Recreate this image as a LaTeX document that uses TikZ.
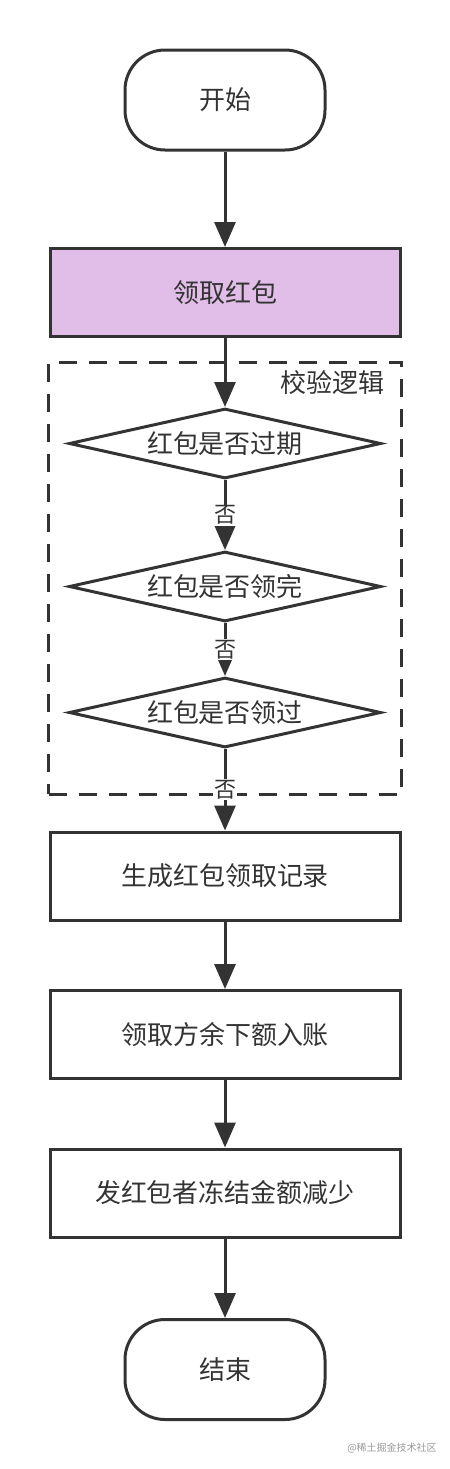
\documentclass[tikz,border=0pt]{standalone}
\usepackage{fontspec}
\setmainfont{Noto Sans CJK SC}
\usetikzlibrary{shapes.geometric, arrows.meta, positioning, fit}
\definecolor{ink}{RGB}{51,51,51}
\definecolor{lilac}{RGB}{225,190,231}
\tikzset{
  startstop/.style={rectangle, rounded corners=20pt, draw=ink, line width=1.5pt, minimum width=100pt, minimum height=50pt, align=center, text=ink, font=\fontsize{13pt}{15pt}\selectfont},
  process/.style={rectangle, draw=ink, line width=1.5pt, minimum width=175pt, minimum height=44pt, align=center, text=ink, font=\fontsize{13pt}{15pt}\selectfont},
  decision/.style={diamond, aspect=4.5, draw=ink, line width=1.5pt, minimum width=156pt, minimum height=35pt, inner sep=0pt, align=center, text=ink, font=\fontsize{13pt}{15pt}\selectfont},
  group/.style={rectangle, draw=ink, line width=1.5pt, dash pattern=on 9pt off 6pt, inner xsep=9.5pt, inner ysep=22.5pt},
  arrow/.style={-{Triangle[length=12.5pt, width=10.5pt]}, line width=1.5pt, draw=ink},
  nolabel/.style={fill=white, inner sep=0.5pt, text=ink, font=\fontsize{11pt}{13pt}\selectfont},
}

\begin{document}
\begin{tikzpicture}[node distance=36pt]
\useasboundingbox (0,0) rectangle (225pt,-734.5pt);
\node[startstop] (start) at (112.5pt,-50pt) {开始};
\node[process, fill=lilac, below=47.75pt of start] (get) {领取红包};
\node[decision, below=34.5pt of get] (chk1) {红包是否过期};
\node[decision, below=35pt of chk1] (chk2) {红包是否领完};
\node[decision, below=26.5pt of chk2] (chk3) {红包是否领过};
\node[process, below=40.75pt of chk3] (rec) {生成红包领取记录};
\node[process, below=33.75pt of rec] (inc) {领取方余下额入账};
\node[process, below=33.75pt of inc] (dec) {发红包者冻结金额减少};
\node[startstop, below=39.75pt of dec] (stop) {结束};
% dashed check group
\node[group, fit=(chk1)(chk3)] (grp) {};
\node[anchor=north east, inner sep=0pt, text=ink, font=\fontsize{13pt}{15pt}\selectfont] (cap) at ([xshift=-9pt, yshift=-5pt]grp.north east) {校验逻辑};
\draw[arrow] (start)--(get); \draw[arrow] (get)--(chk1);
\draw[arrow] (chk1)-- node[nolabel]{否}(chk2);
\draw[arrow] (chk2)-- node[nolabel]{否}(chk3);
\draw[arrow] (chk3)-- node[nolabel]{否}(rec);
\draw[arrow] (rec)--(inc); \draw[arrow] (inc)--(dec);
\draw[arrow] (dec)--(stop);
\node[text=black!40, font=\fontsize{5pt}{6pt}\selectfont] (wm) at (196pt,-724pt) {@稀土掘金技术社区};
\end{tikzpicture}
\end{document}
